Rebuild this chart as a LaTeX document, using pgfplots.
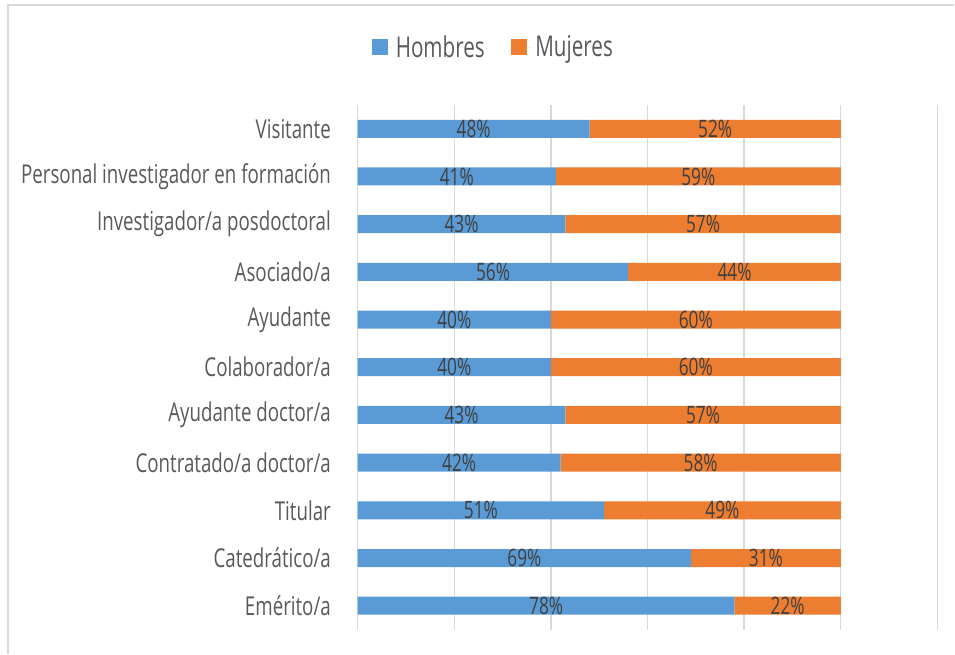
\documentclass[border=0pt]{standalone}
\usepackage{fontspec}
\setmainfont{Open Sans}[FakeStretch=0.72]
\usepackage{pgfplots}
\usepackage{pgfplotstable}
\pgfplotsset{compat=1.18}
\usetikzlibrary{calc}

\definecolor{hblue}{HTML}{5B9BD5}
\definecolor{morange}{HTML}{ED7D31}
\definecolor{gridg}{HTML}{D9D9D9}
\definecolor{labg}{HTML}{595959}
\definecolor{valg}{HTML}{404040}

\pgfplotstableread[col sep=comma]{
cat,H,M
Visitante,48,52
Personal investigador en formación,41,59
Investigador/a posdoctoral,43,57
Asociado/a,56,44
Ayudante,40,60
Colaborador/a,40,60
Ayudante doctor/a,43,57
Contratado/a doctor/a,42,58
Titular,51,49
Catedrático/a,69,31
Emérito/a,78,22
}\datos

\begin{document}
\begin{tikzpicture}
\begin{axis}[
  scale only axis,
  width=435pt, height=393.75pt,
  xbar stacked,
  bar width=13.5pt,
  y dir=reverse,
  xmin=0, xmax=120,
  ymin=-0.5, ymax=10.5,
  xtick={0,20,...,120},
  xticklabels={},
  ytick={0,...,10},
  yticklabels from table={\datos}{cat},
  yticklabel style={font=\fontsize{19.5}{22}\selectfont, text=labg, inner sep=0pt, xshift=-20pt},
  major tick length=0pt,
  axis line style={draw=none},
  xmajorgrids,
  grid style={gridg, line width=1pt},
  point meta=explicit,
  /pgf/number format/assume math mode=true,
  nodes near coords={\pgfmathprintnumber{\pgfplotspointmeta}\%},
  every node near coord/.append style={font=\fontsize{18}{20}\selectfont, text=valg, anchor=center},
  legend columns=2,
  legend style={at={(0.2345,1.11)}, anchor=center, draw=none, fill=none,
    font=\fontsize{21.5}{24}\selectfont, text=labg,
    /tikz/every even column/.append style={column sep=18pt}},
  legend image code/.code={\fill[#1] (0pt,-6pt) rectangle (12pt,6pt); \path (0pt,0pt) -- (16pt,0pt);},
]
\addplot[fill=hblue, draw=none] table[x=H, y expr=\coordindex, meta=H] {\datos};
\addplot[fill=morange, draw=none] table[x=M, y expr=\coordindex, meta=M] {\datos};
\legend{Hombres, Mujeres}
\coordinate (sw) at (axis description cs:0,0);
\coordinate (ne) at (axis description cs:1,1);
\end{axis}
\path ($(sw)+(-268.5pt,-18pt)$) rectangle ($(ne)+(12.75pt,78.75pt)$);
\draw[gridg, line width=1pt] ($(sw|-ne)+(-263.25pt,75pt)$) -- ($(ne)+(12.75pt,75pt)$);
\draw[gridg, line width=1.5pt] ($(sw|-ne)+(-262.5pt,75pt)$) -- ($(sw)+(-262.5pt,-18pt)$);
\end{tikzpicture}
\end{document}
